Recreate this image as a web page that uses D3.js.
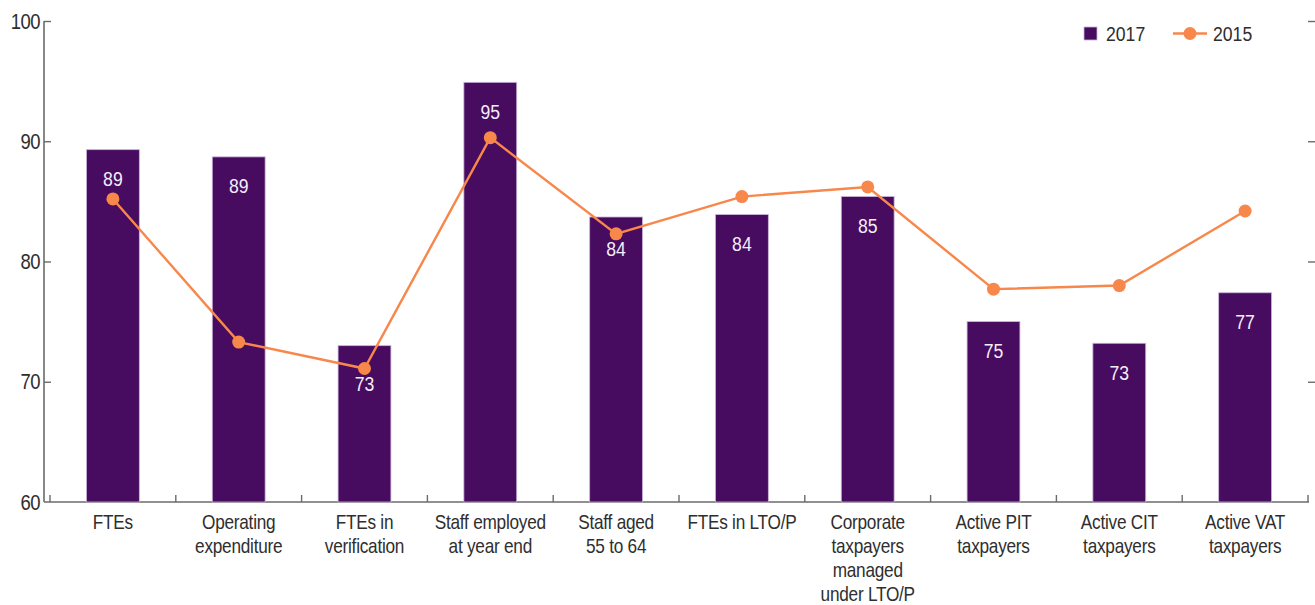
<!DOCTYPE html>
<html>
<head>
<meta charset="utf-8">
<script src="https://cdn.jsdelivr.net/npm/d3@7"></script>
<style>
  html, body { margin: 0; padding: 0; background: #fff; }
  svg { display: block; }
  text { font-family: "Liberation Sans", Arial, sans-serif; }
</style>
</head>
<body>
<svg id="chart" width="1315" height="605"></svg>
<script>
// Category labels (line breaks as drawn under the axis)
const categories = [
  ["FTEs"],
  ["Operating", "expenditure"],
  ["FTEs in", "verification"],
  ["Staff employed", "at year end"],
  ["Staff aged", "55 to 64"],
  ["FTEs in LTO/P"],
  ["Corporate", "taxpayers", "managed", "under LTO/P"],
  ["Active PIT", "taxpayers"],
  ["Active CIT", "taxpayers"],
  ["Active VAT", "taxpayers"]
];
// 2017 values (bars) and 2015 values (line)
const values2017 = [89.3, 88.7, 73.0, 94.9, 83.7, 83.9, 85.4, 75.0, 73.2, 77.4];
const values2015 = [85.2, 73.3, 71.1, 90.3, 82.3, 85.4, 86.2, 77.7, 78.0, 84.2];
const yTicks = [60, 70, 80, 90, 100];
const seriesNames = ["2017", "2015"];

const barColor = "#470b5f";
const barEdge = "#c9b3d9";
const lineColor = "#f7874a";
const axisColor = "#6b6b6b";
const textColor = "#2e2e2e";

const svg = d3.select("#chart");
const x0 = 50, x1 = 1308, yTop = 21, yBot = 502;

const idx = categories.map((d, i) => i);
const x = d3.scaleBand().domain(idx).range([x0, x1]).paddingInner(0.58).paddingOuter(0.29);
const xStep = d3.scaleBand().domain(idx).range([x0, x1]);
const y = d3.scaleLinear().domain([60, 100]).range([yBot, yTop]);

// Condensed text placed at (px, py)
function narrowText(g, px, py, str, size, fill, anchor, squeeze) {
  return g.append("text")
    .attr("transform", `translate(${px},${py}) scale(${squeeze || 0.84},1)`)
    .attr("text-anchor", anchor || "middle").attr("dy", "0.35em")
    .attr("font-size", size).attr("fill", fill).text(str);
}

// Left axis with inward ticks
const gy = svg.append("g").attr("transform", "translate(44,0)")
  .call(d3.axisLeft(y).tickValues(yTicks).tickSize(-7).tickFormat(""));
gy.select(".domain").attr("stroke", axisColor).attr("stroke-width", 1.6).attr("d", `M0,${yTop}V${yBot}`);
gy.selectAll(".tick line").attr("stroke", axisColor).attr("stroke-width", 1.4);
gy.selectAll(".tick").filter(d => d === 60).select("line").remove();
const ylab = svg.append("g");
yTicks.forEach(v => narrowText(ylab, 40, y(v), d3.format("d")(v), 22, textColor, "end", 0.84).attr("letter-spacing", -0.6));

// Right-side ticks (no spine)
svg.append("g").attr("transform", `translate(${x1},0)`)
  .call(d3.axisRight(y).tickValues(yTicks.filter(v => v > 60)).tickSize(7).tickFormat(""))
  .call(g => g.select(".domain").remove())
  .selectAll(".tick line").attr("stroke", axisColor).attr("stroke-width", 1.4);

// Bottom axis: baseline plus category boundary ticks
svg.append("line").attr("x1", 44).attr("x2", x1 + 1).attr("y1", yBot).attr("y2", yBot)
  .attr("stroke", axisColor).attr("stroke-width", 1.6);
const bounds = idx.map(i => xStep(i)).concat([x1]);
svg.append("g").selectAll("line").data(bounds).join("line")
  .attr("x1", d => d).attr("x2", d => d).attr("y1", yBot).attr("y2", yBot - 7)
  .attr("stroke", axisColor).attr("stroke-width", 1.4);

// Bars (2017)
svg.append("g").selectAll("rect").data(values2017).join("rect")
  .attr("x", (d, i) => x(i)).attr("width", x.bandwidth())
  .attr("y", d => y(d)).attr("height", d => yBot - y(d))
  .attr("fill", barColor).attr("stroke", barEdge).attr("stroke-width", 0.8);

// Line (2015)
const cx = i => x(i) + x.bandwidth() / 2;
svg.append("path").datum(values2015)
  .attr("d", d3.line().x((d, i) => cx(i)).y(d => y(d)))
  .attr("fill", "none").attr("stroke", lineColor).attr("stroke-width", 2.4);
svg.append("g").selectAll("circle").data(values2015).join("circle")
  .attr("cx", (d, i) => cx(i)).attr("cy", d => y(d)).attr("r", 6.5).attr("fill", lineColor);

// Value labels inside the bars; pushed below the marker when it sits inside the bar
const vl = svg.append("g");
values2017.forEach((d, i) => {
  const base = y(d) + 29;
  const dot = y(values2015[i]);
  const ly = (dot > y(d) && dot < base + 12) ? Math.max(base, dot + 15) : base;
  narrowText(vl, cx(i), ly, Math.round(d), 21, "#f3eef8", "middle", 0.84);
});

// Category labels
const cl = svg.append("g");
categories.forEach((lines, i) => {
  lines.forEach((s, j) => narrowText(cl, cx(i), 522 + j * 24, s, 21, textColor, "middle", 0.82).attr("letter-spacing", -0.3));
});

// Legend
const lg = svg.append("g");
lg.append("rect").attr("x", 1084).attr("y", 27).attr("width", 13).attr("height", 13)
  .attr("fill", barColor).attr("stroke", barEdge).attr("stroke-width", 0.8);
narrowText(lg, 1106, 33.5, seriesNames[0], 21, textColor, "start");
lg.append("line").attr("x1", 1173).attr("x2", 1207).attr("y1", 33.5).attr("y2", 33.5)
  .attr("stroke", lineColor).attr("stroke-width", 2.4);
lg.append("circle").attr("cx", 1190).attr("cy", 33.5).attr("r", 6.5).attr("fill", lineColor);
narrowText(lg, 1213, 33.5, seriesNames[1], 21, textColor, "start");
</script>
</body>
</html>
